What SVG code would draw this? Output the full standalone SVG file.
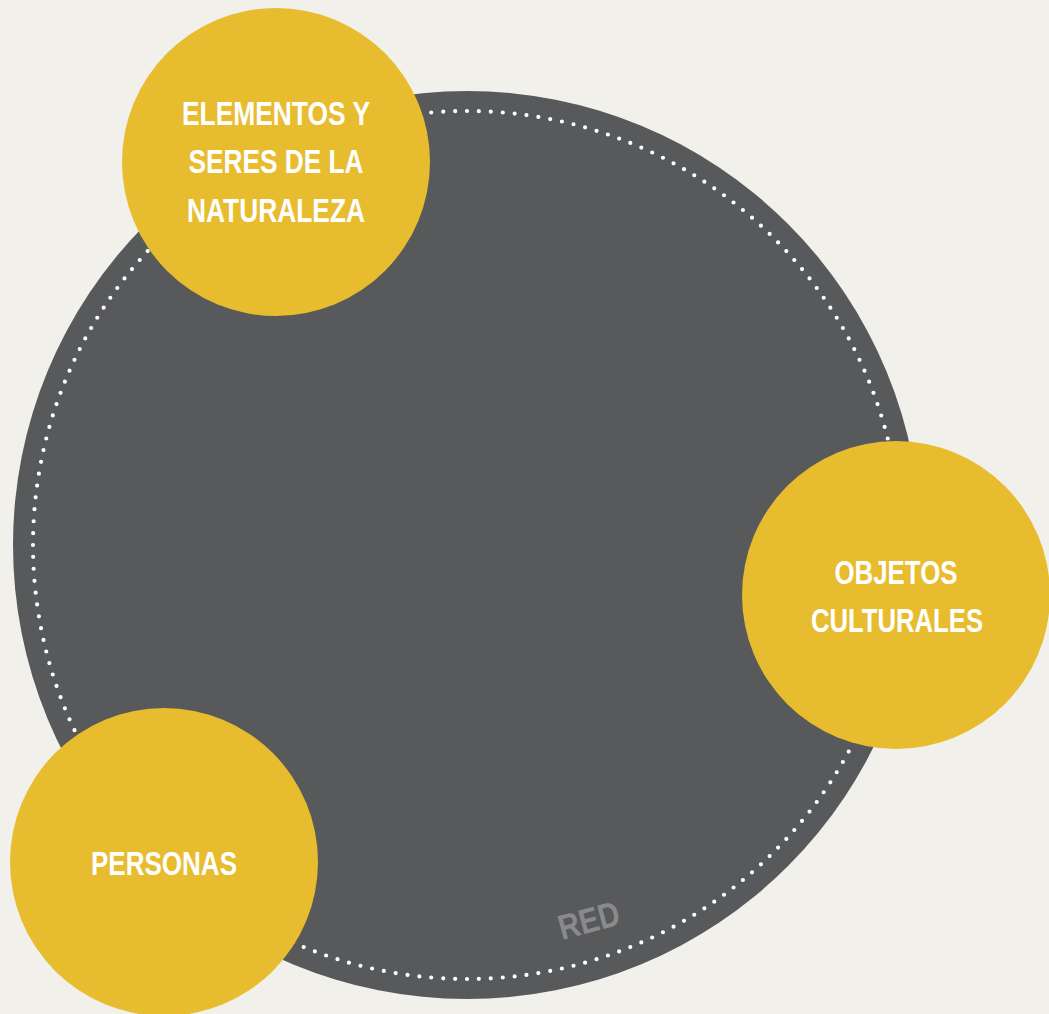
<svg xmlns="http://www.w3.org/2000/svg" width="1049" height="1014" viewBox="0 0 1049 1014">
<style>
.lbl{font-family:"Liberation Sans",Arial,sans-serif;font-weight:bold;font-size:33px;fill:#ffffff;text-anchor:middle}
.node{fill:#E8BC2F}
.red{font-family:"Liberation Sans",Arial,sans-serif;font-weight:bold;font-size:35px;fill:#898A8C;text-anchor:middle}
</style>
<rect x="0" y="0" width="1049" height="1014" fill="#F2F0EB"/>
<g id="red-network">
<circle cx="467" cy="545" r="454" fill="#58595B"/>
<circle cx="467" cy="545" r="434" fill="none" stroke="#ffffff" stroke-width="4.2" stroke-linecap="round" stroke-dasharray="0 1" pathLength="228"/>
<text class="red" transform="translate(592,932) rotate(-15)" textLength="62" lengthAdjust="spacingAndGlyphs">RED</text>
</g>
<g id="connectors"></g>
<g id="node-naturaleza">
<circle class="node" cx="276" cy="162" r="154"/>
<text class="lbl" x="276" y="125" textLength="188" lengthAdjust="spacingAndGlyphs">ELEMENTOS Y</text>
<text class="lbl" x="276" y="173" textLength="175" lengthAdjust="spacingAndGlyphs">SERES DE LA</text>
<text class="lbl" x="276" y="222" textLength="178" lengthAdjust="spacingAndGlyphs">NATURALEZA</text>
</g>
<g id="node-objetos">
<circle class="node" cx="896" cy="595" r="154"/>
<text class="lbl" x="896" y="584" textLength="123" lengthAdjust="spacingAndGlyphs">OBJETOS</text>
<text class="lbl" x="897" y="632" textLength="172" lengthAdjust="spacingAndGlyphs">CULTURALES</text>
</g>
<g id="node-personas">
<circle class="node" cx="164" cy="862" r="154"/>
<text class="lbl" x="164" y="875" textLength="146" lengthAdjust="spacingAndGlyphs">PERSONAS</text>
</g>
</svg>
